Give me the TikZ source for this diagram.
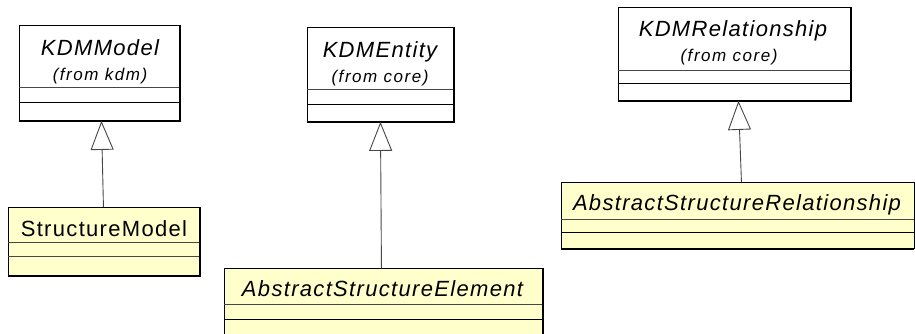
\documentclass[tikz,border=0pt]{standalone}
\usepackage{fontspec}
\setmainfont{Liberation Sans}
\newfontfamily\titlefont[LetterSpace=6]{Liberation Sans}
\newfontfamily\subfont[LetterSpace=9]{Liberation Sans}
\usetikzlibrary{arrows.meta}
\definecolor{clsyellow}{RGB}{255,255,204}
\definecolor{linegray}{RGB}{70,70,70}
\tikzset{
  cls/.style={draw=black, line width=0.9pt, inner sep=0pt, anchor=north west},
  plaincls/.style={cls, fill=white},
  yellowcls/.style={cls, fill=clsyellow},
  edgeline/.style={line width=1.6pt},
  divline/.style={draw=linegray, line width=0.9pt},
  ttl/.style={anchor=base, inner sep=0pt, font=\titlefont\fontsize{22}{26}\selectfont},
  sub/.style={anchor=base, inner sep=0pt, font=\subfont\itshape\fontsize{17}{20}\selectfont},
  gen/.style={draw=linegray, line width=0.9pt, -{Triangle[open, length=29pt, width=23pt]}},
}
\begin{document}
\begin{tikzpicture}[x=1pt,y=-1pt]
\useasboundingbox (0,0) rectangle (915,333);
\clip (0,0) rectangle (915,333);

% KDMModel
\node[plaincls, minimum width=160pt, minimum height=95pt] (kdmmodel) at (19,25) {};
\draw[divline] (kdmmodel.west |- 0,87) -- (kdmmodel.east |- 0,87);
\draw[divline, draw=black] (kdmmodel.west |- 0,102) -- (kdmmodel.east |- 0,102);
\draw[edgeline] (kdmmodel.south west) -- (kdmmodel.south east) -- (kdmmodel.north east);
\node[ttl] (kdmmodeltitle) at (100,55) {\itshape KDMModel};
\node[sub] (kdmmodelsub) at (100,80) {(from kdm)};

% StructureModel
\node[yellowcls, minimum width=191pt, minimum height=68pt] (sm) at (8,207) {};
\draw[divline] (sm.west |- 0,242) -- (sm.east |- 0,242);
\draw[divline] (sm.west |- 0,256) -- (sm.east |- 0,256);
\draw[edgeline] (sm.south west) -- (sm.south east) -- (sm.north east);
\node[ttl] (smtitle) at (104,236) {StructureModel};

% KDMEntity
\node[plaincls, minimum width=146pt, minimum height=94pt] (kdmentity) at (307,27) {};
\draw[divline] (kdmentity.west |- 0,89) -- (kdmentity.east |- 0,89);
\draw[divline, draw=black] (kdmentity.west |- 0,104) -- (kdmentity.east |- 0,104);
\draw[edgeline] (kdmentity.south west) -- (kdmentity.south east) -- (kdmentity.north east);
\node[ttl] (kdmentitytitle) at (380,57) {\itshape KDMEntity};
\node[sub] (kdmentitysub) at (380,82) {(from core)};

% AbstractStructureElement
\node[yellowcls, minimum width=318pt, minimum height=80pt] (ase) at (224,268) {};
\draw[divline] (ase.west |- 0,304) -- (ase.east |- 0,304);
\draw[divline, draw=black] (ase.west |- 0,319) -- (ase.east |- 0,319);
\draw[edgeline] (ase.south east) -- (ase.north east);
\node[ttl] (asetitle) at (382.5,296) {\itshape AbstractStructureElement};

% KDMRelationship
\node[plaincls, minimum width=232pt, minimum height=93pt] (kdmrel) at (618,7) {};
\draw[divline] (kdmrel.west |- 0,70) -- (kdmrel.east |- 0,70);
\draw[divline, draw=black] (kdmrel.west |- 0,83) -- (kdmrel.east |- 0,83);
\draw[edgeline] (kdmrel.south west) -- (kdmrel.south east) -- (kdmrel.north east);
\node[ttl] (kdmreltitle) at (733,36) {\itshape KDMRelationship};
\node[sub] (kdmrelsub) at (729,61) {(from core)};

% AbstractStructureRelationship
\node[yellowcls, minimum width=352.5pt, minimum height=66pt] (asr) at (561,182) {};
\draw[divline] (asr.west |- 0,219) -- (asr.east |- 0,219);
\draw[divline, draw=black] (asr.west |- 0,232) -- (asr.east |- 0,232);
\draw[edgeline] (asr.south west) -- (asr.south east);
\node[ttl] (asrtitle) at (737,210) {\itshape AbstractStructureRelationship};

% generalizations
\draw[gen] ([xshift=-0.5pt]sm.north) -- ([xshift=2pt]kdmmodel.south);
\draw[gen] ([xshift=-2pt]ase.north) -- (kdmentity.south);
\draw[gen] ([xshift=3.75pt]asr.north) -- ([xshift=4pt]kdmrel.south);
\end{tikzpicture}
\end{document}
